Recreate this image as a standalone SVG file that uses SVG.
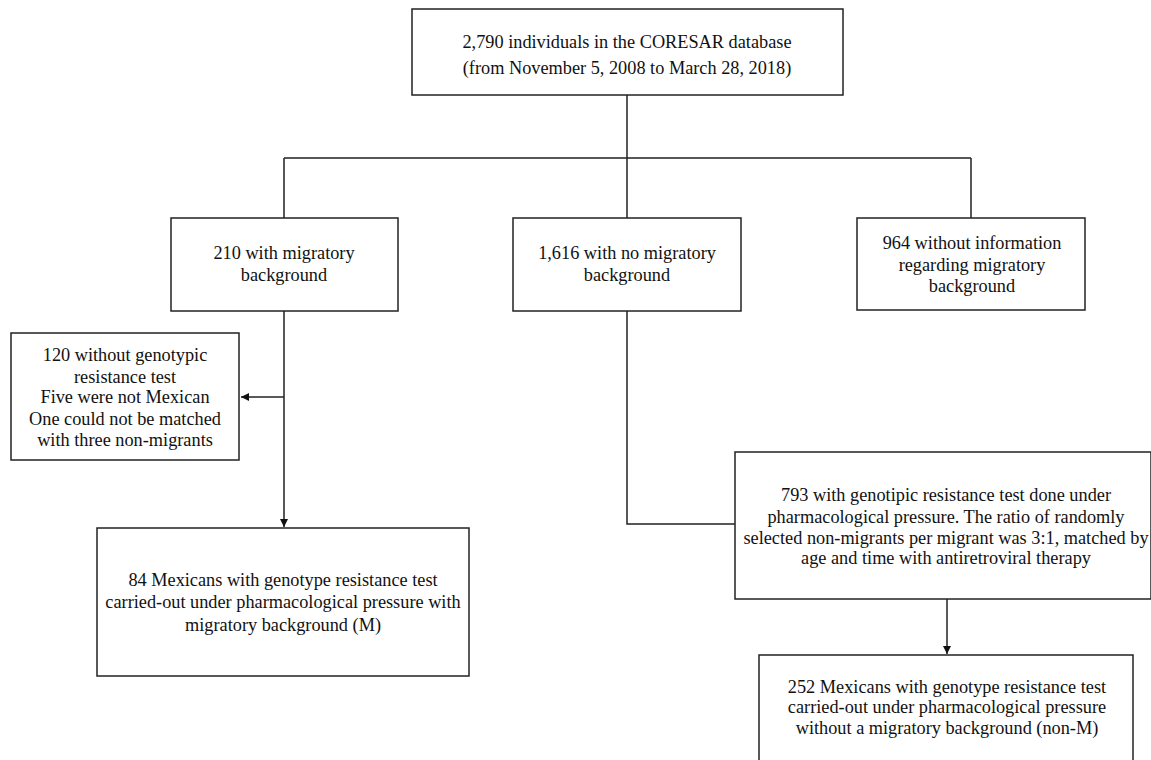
<svg xmlns="http://www.w3.org/2000/svg" width="1151" height="760" viewBox="0 0 1151 760">
<defs>
<marker id="arr" viewBox="0 0 10 10" refX="10" refY="5" markerWidth="8" markerHeight="8" markerUnits="userSpaceOnUse" orient="auto">
<path d="M0,0 L10,5 L0,10 z" fill="#111"/>
</marker>
<style>
.box{fill:#fff;stroke:#222;stroke-width:1.5}
.t{font-family:"Liberation Serif","Times New Roman",serif;font-size:18.3px;fill:#111;text-anchor:middle}
.c{fill:none;stroke:#222;stroke-width:1.5}
</style>
</defs>
<rect width="1151" height="760" fill="#fff"/>
<g id="connectors">
<path class="c" d="M627,95 V158 M284,158 H971 M284,158 V218 M627,158 V218 M971,158 V218"/>
<path class="c" d="M284,311 V527" marker-end="url(#arr)"/>
<path class="c" d="M284,397 H241" marker-end="url(#arr)"/>
<path class="c" d="M627,311 V524 H735"/>
<path class="c" d="M947,599 V654" marker-end="url(#arr)"/>
</g>
<g id="n-top">
<rect class="box" x="412" y="9" width="431" height="86"/>
<text class="t" x="627" y="48">2,790 individuals in the CORESAR database</text>
<text class="t" x="627" y="74">(from November 5, 2008 to March 28, 2018)</text>
</g>
<g id="n-migr">
<rect class="box" x="171" y="218" width="227" height="93"/>
<text class="t" x="284" y="259">210 with migratory</text>
<text class="t" x="284" y="281">background</text>
</g>
<g id="n-nomigr">
<rect class="box" x="513" y="218" width="228" height="93"/>
<text class="t" x="627" y="259">1,616 with no migratory</text>
<text class="t" x="627" y="281">background</text>
</g>
<g id="n-noinfo">
<rect class="box" x="857" y="218" width="228" height="92"/>
<text class="t" x="972" y="249">964 without information</text>
<text class="t" x="972" y="271">regarding migratory</text>
<text class="t" x="972" y="292">background</text>
</g>
<g id="n-excl">
<rect class="box" x="11" y="333" width="228" height="127"/>
<text class="t" x="125" y="361">120 without genotypic</text>
<text class="t" x="125" y="383">resistance test</text>
<text class="t" x="125" y="403">Five were not Mexican</text>
<text class="t" x="125" y="425">One could not be matched</text>
<text class="t" x="125" y="446">with three non-migrants</text>
</g>
<g id="n-m">
<rect class="box" x="97" y="528" width="372" height="148"/>
<text class="t" x="283" y="586">84 Mexicans with genotype resistance test</text>
<text class="t" x="283" y="608">carried-out under pharmacological pressure with</text>
<text class="t" x="283" y="631">migratory background (M)</text>
</g>
<g id="n-793">
<rect class="box" x="735" y="452" width="416" height="147"/>
<text class="t" x="946" y="501">793 with genotipic resistance test done under</text>
<text class="t" x="946" y="523">pharmacological pressure. The ratio of randomly</text>
<text class="t" x="946" y="544">selected non-migrants per migrant was 3:1, matched by</text>
<text class="t" x="946" y="564">age and time with antiretroviral therapy</text>
</g>
<g id="n-nonm">
<rect class="box" x="759" y="655" width="374" height="120"/>
<text class="t" x="947" y="693">252 Mexicans with genotype resistance test</text>
<text class="t" x="947" y="713">carried-out under pharmacological pressure</text>
<text class="t" x="947" y="734">without a migratory background (non-M)</text>
</g>
</svg>
